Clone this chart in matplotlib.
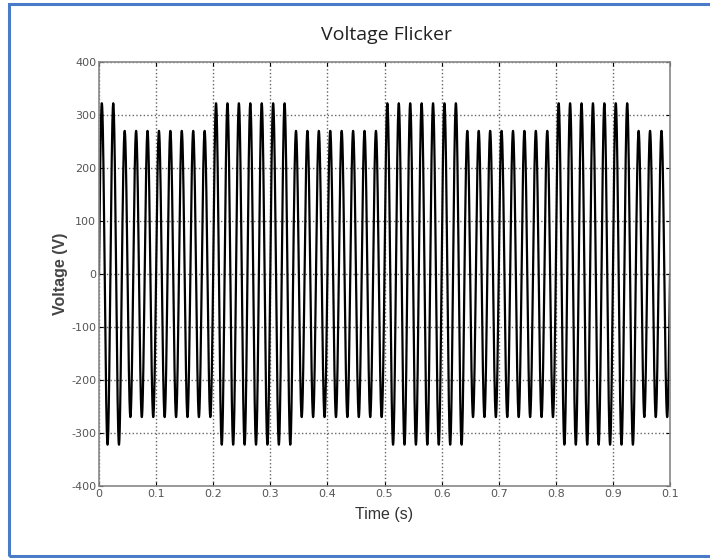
import numpy as np
import matplotlib.pyplot as plt
from matplotlib.patches import Rectangle

plt.rcParams['axes.unicode_minus'] = False

## the data
freq = 50.0                                            # supply frequency (Hz)
seg_start = [0.0, 0.04, 0.20, 0.34, 0.50, 0.64, 0.80, 0.94]
seg_end   = [0.04, 0.20, 0.34, 0.50, 0.64, 0.80, 0.94, 1.00]
seg_amp   = [322, 270, 322, 270, 322, 270, 322, 270]   # peak voltage in each segment (V)

xticks = [0, 0.1, 0.2, 0.3, 0.4, 0.5, 0.6, 0.7, 0.8, 0.9, 1.0]
xtick_labels = ['0', '0.1', '0.2', '0.3', '0.4', '0.5', '0.6', '0.7', '0.8', '0.9', '0.1']
yticks = [-400, -300, -200, -100, 0, 100, 200, 300, 400]

## build waveform
t = np.linspace(0, 1.0, 20001)
amp = np.zeros_like(t)
for s, e, a in zip(seg_start, seg_end, seg_amp):
    amp[(t >= s) & (t <= e)] = a
v = amp * np.sin(2 * np.pi * freq * t)

fig = plt.figure(figsize=(7.1, 5.58), dpi=100)
ax = fig.add_axes([0.1394, 0.129, 0.8043, 0.760])

ax.plot(t, v, color='black', linewidth=1.6)

# axes and labels
ax.set_xlim(0, 1.0)
ax.set_ylim(-400, 400)
ax.set_xticks(xticks)
ax.set_xticklabels(xtick_labels)
ax.set_yticks(yticks)
ax.tick_params(direction='in', top=True, right=True, labelsize=8,
               labelcolor='#555555', length=3, pad=2)
ax.grid(True, linestyle=':', color='#666666', linewidth=1.0)
for sp in ax.spines.values():
    sp.set_color('#888888')
    sp.set_linewidth(1.2)

ax.set_xlabel('Time (s)', fontsize=11.5, family='Liberation Sans', color='#333333', labelpad=6)
ax.set_ylabel('Voltage (V)', fontsize=11.5, family='Liberation Sans', fontweight='bold',
              color='#444444', labelpad=2)
fig.text(0.545, 0.937, 'Voltage Flicker', ha='center', va='center',
         fontsize=14, family='Open Sans', color='#222222')

# blue frame around the picture
fig.patches.append(Rectangle((0.012, 0.003), 1.05, 0.99,
                             transform=fig.transFigure, fill=False,
                             edgecolor='#4a7bc8', linewidth=2.2, clip_on=False))

fig.savefig('out.png', dpi=100)
